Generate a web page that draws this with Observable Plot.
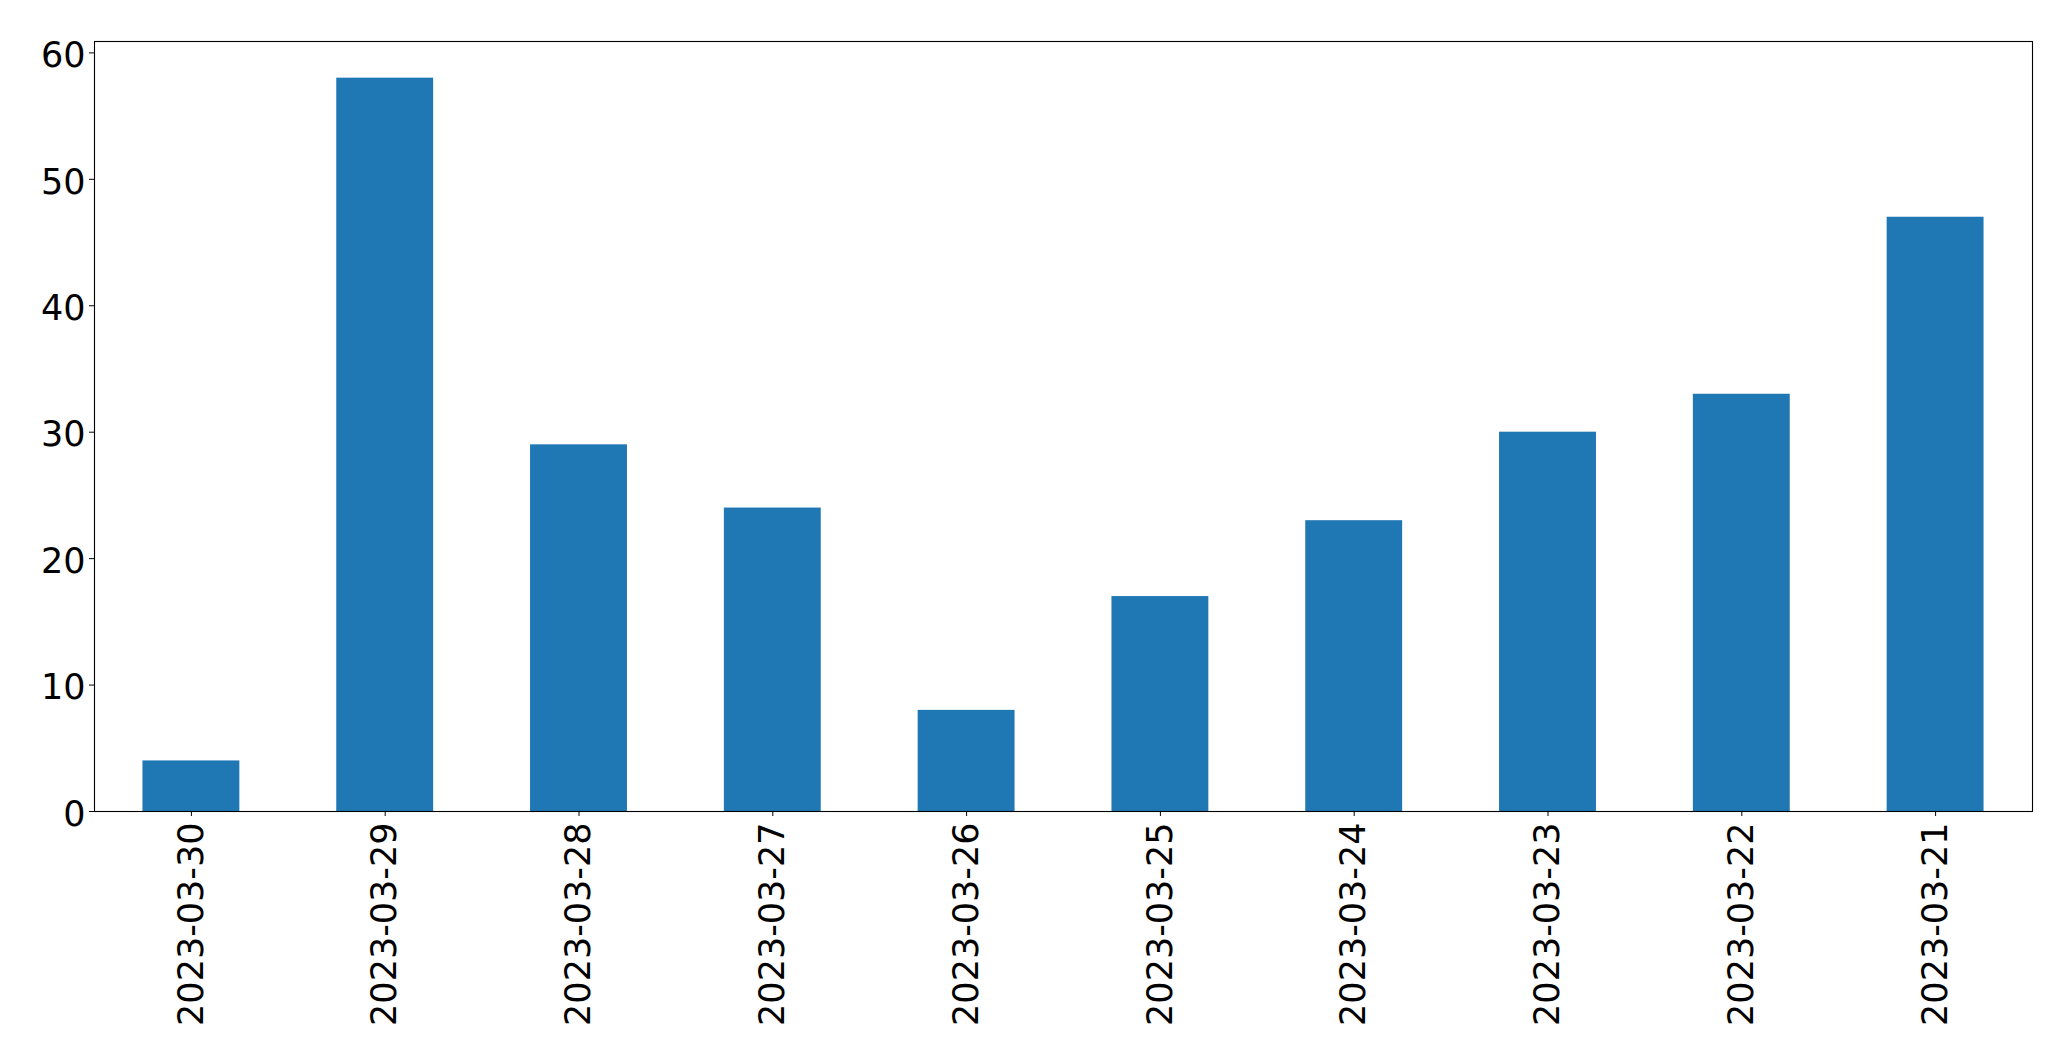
<!DOCTYPE html>
<html>
<head>
<meta charset="utf-8">
<script src="https://cdn.jsdelivr.net/npm/d3@7"></script>
<script src="https://cdn.jsdelivr.net/npm/@observablehq/plot@0.6"></script>
<style>
  html, body { margin: 0; padding: 0; background: #fff; }
  svg { display: block; }
</style>
</head>
<body>
<div id="chart"></div>
<script>
const dates = ["2023-03-30","2023-03-29","2023-03-28","2023-03-27","2023-03-26","2023-03-25","2023-03-24","2023-03-23","2023-03-22","2023-03-21"];
const counts = [4, 58, 29, 24, 8, 17, 23, 30, 33, 47];
const yTicks = [0, 10, 20, 30, 40, 50, 60];

const data = dates.map((d, i) => ({date: d, count: counts[i]}));

const chart = Plot.plot({
  width: 2071,
  height: 1063,
  marginLeft: 94,
  marginRight: 39,
  marginTop: 41,
  marginBottom: 252,
  style: {fontFamily: "DejaVu Sans", fontSize: "35px", color: "black", background: "white"},
  x: {domain: dates, paddingInner: 0.5, paddingOuter: 0.25, round: false, axis: null},
  y: {domain: [0, 60.9], axis: null},
  marks: [
    Plot.barY(data, {x: "date", y: "count", fill: "#1f77b4"}),
    Plot.axisY({ticks: yTicks, tickSize: 5, stroke: "black", label: null, tickFormat: () => ""}),
    Plot.text(yTicks, {y: d => d, frameAnchor: "left", textAnchor: "end", dx: -9, dy: 3, fontSize: 35, fill: "black", text: d => String(d)}),
    Plot.axisX({tickSize: 5, stroke: "black", label: null, tickFormat: () => ""}),
    Plot.text(dates, {x: d => d, frameAnchor: "bottom", rotate: -90, textAnchor: "end", lineAnchor: "middle", dy: 11, fontSize: 35, fill: "black", text: d => d}),
    Plot.frame({stroke: "black", strokeWidth: 1.1})
  ]
});
document.getElementById("chart").appendChild(chart);
</script>
</body>
</html>
